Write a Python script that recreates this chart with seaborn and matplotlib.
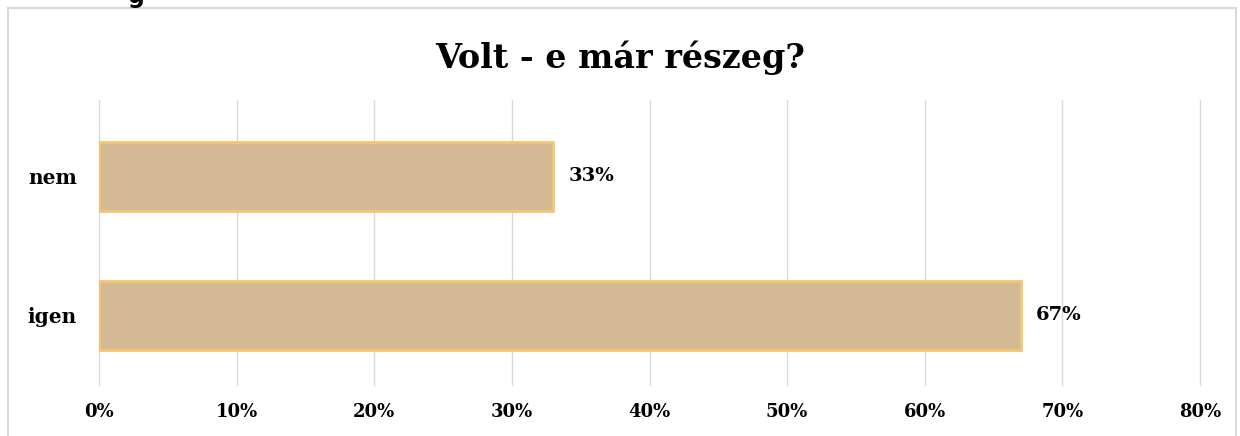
import numpy as np
import pandas as pd
import seaborn as sns
import matplotlib.pyplot as plt
from matplotlib.patches import Rectangle
from matplotlib.ticker import PercentFormatter

categories = ["nem", "igen"]
shares = [33, 67]
labels = ["33%", "67%"]

sns.set_theme(style="white")
plt.rcParams['font.family'] = ['DejaVu Serif', 'DejaVu Sans']
plt.rcParams['text.color'] = 'black'
plt.rcParams['xtick.color'] = 'black'
plt.rcParams['ytick.color'] = 'black'

df = pd.DataFrame({"answer": categories, "share": shares})

fig = plt.figure(figsize=(12.4, 4.36), dpi=100)
ax = fig.add_axes([99 / 1240, 1 - 385 / 436, 1101 / 1240, 285 / 436])

# chart frame like the Excel chart area
fig.patches.append(Rectangle((8 / 1240, -0.01), 1228 / 1240, 1 - 8 / 436 + 0.01,
                             transform=fig.transFigure, fill=False,
                             edgecolor="#d9d9d9", linewidth=1.5))

# cut-off fragment of the text above the chart
fig.text(128 / 1240, 1 - 3 / 436, "g", ha="left", va="baseline",
         fontsize=17, fontweight="bold", family="DejaVu Sans")

sns.barplot(data=df, x="share", y="answer", orient="h", ax=ax,
            color="#d4b995", edgecolor="#f3c670", linewidth=2,
            width=0.5, saturation=1, zorder=3)

ax.set_xlim(0, 80)
ax.set_ylim(1.5, -0.55)
ax.set_xticks(np.arange(0, 81, 10))
ax.xaxis.set_major_formatter(PercentFormatter(decimals=0))
ax.grid(axis="x", color="#d9d9d9", linewidth=1, zorder=0)
for gl in ax.get_xgridlines():
    gl.set_clip_on(False)
ax.set_axisbelow(True)
sns.despine(ax=ax, left=True, bottom=True)
ax.set_xlabel("")
ax.set_ylabel("")
ax.tick_params(axis="x", length=0, pad=13, labelsize=13)
ax.tick_params(axis="y", length=0, pad=16, labelsize=14.5)
for t in ax.get_xticklabels() + ax.get_yticklabels():
    t.set_fontweight("bold")

for i, (v, lab) in enumerate(zip(shares, labels)):
    ax.text(v + 1.1, i, lab, va="center", ha="left",
            fontsize=14, fontweight="bold")

fig.text(0.5, 1 - 58 / 436, "Volt - e már részeg?", ha="center", va="center",
         fontsize=24, fontweight="bold")

fig.savefig("out.png", dpi=100)
